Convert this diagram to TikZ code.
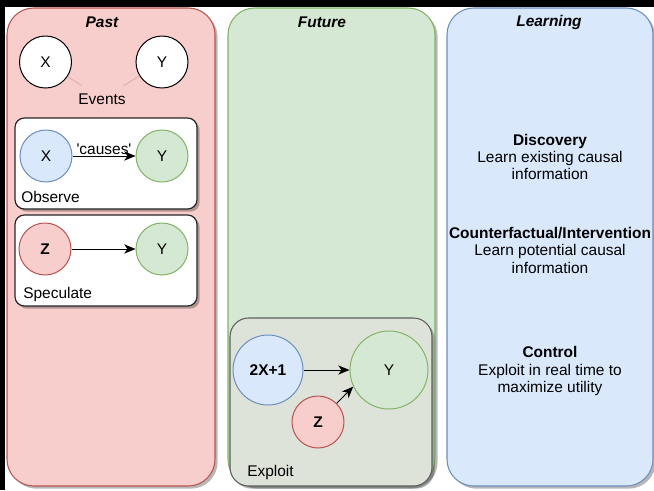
\documentclass[tikz,border=0pt]{standalone}
\usepackage{fontspec}
\setmainfont{Liberation Sans}
\newfontfamily\nomap{Liberation Sans}[Ligatures=TeXOff]
\usetikzlibrary{arrows.meta,shadows}
\definecolor{redF}{HTML}{F8CECC}
\definecolor{redS}{HTML}{B85450}
\definecolor{greenF}{HTML}{D5E8D4}
\definecolor{greenS}{HTML}{82B366}
\definecolor{blueF}{HTML}{DAE8FC}
\definecolor{blueS}{HTML}{6C8EBF}
\definecolor{exF}{HTML}{DEE3DA}
\definecolor{exS}{HTML}{5E5E5E}
\definecolor{evline}{RGB}{215,172,170}
\begin{document}
\begin{tikzpicture}[x=0.75pt,y=-0.75pt,
  every node/.style={font=\fontsize{11.6pt}{13.1pt}\selectfont},
  shad/.style={drop shadow={shadow xshift=2pt,shadow yshift=-2pt,opacity=0.28,fill=black}},
  panel/.style={rounded corners=20pt,line width=0.8pt,shad},
  subbox/.style={rounded corners=7pt,line width=0.9pt,draw=black!85,fill=white,shad},
  exbox/.style={rounded corners=14pt,line width=0.8pt,draw=exS,fill=exF,shad},
  circ/.style={circle,minimum size=39pt,inner sep=0pt,line width=0.75pt},
  wc/.style={circ,draw=black,fill=white},
  rc/.style={circ,draw=redS,fill=redF},
  gc/.style={circ,draw=greenS,fill=greenF},
  bc/.style={circ,draw=blueS,fill=blueF},
  arr/.style={-{Stealth[length=8.5pt,width=7pt,inset=2.5pt]},line width=0.75pt,draw=black},
  title/.style={font=\fontsize{11.6pt}{13.1pt}\selectfont\bfseries\itshape},
  lbl/.style={anchor=west,inner sep=0pt},
  learn/.style={align=center,inner sep=0pt}]
\useasboundingbox (0,0) rectangle (654,490);
\fill[black] (0,0) rectangle (654,490);
\fill[white] (5,7) rectangle (654,490);
% panels
\draw[panel,draw=redS,fill=redF] (7,8) rectangle (215,486);
\draw[panel,draw=greenS,fill=greenF] (228,8) rectangle (435,486);
\draw[panel,draw=blueS,fill=blueF] (447,8) rectangle (653,486);
\node[title] (tpast) at (102,22) {Past};
\node[title] (tfut) at (322,22) {Future};
\node[title] (tlearn) at (549,22) {Learning};
% Events
\node[wc] (ex) at (45.5,62) {X};
\node[wc] (ey) at (162,62) {Y};
\node[minimum width=36pt,minimum height=19.5pt,inner sep=0pt] (events) at (102,99) {Events};
\draw[evline,line width=0.6pt] (ex) -- (events);
\draw[evline,line width=0.6pt] (ey) -- (events);
% Observe
\draw[subbox] (15,118) rectangle (197,209);
\node[bc] (ox) at (46,156) {X};
\node[gc] (oy) at (162,156) {Y};
\draw[arr] (ox) -- node[above,inner sep=1pt] (causes) {{\nomap 'causes'}} (oy);
\node[lbl] (observe) at (21,197) {Observe};
% Speculate
\draw[subbox] (15,215) rectangle (197,306);
\node[rc,font=\fontsize{11.6pt}{13.1pt}\selectfont\bfseries] (sz) at (45,249) {Z};
\node[gc] (sy) at (162,249) {Y};
\draw[arr] (sz) -- (sy);
\node[lbl] (speculate) at (23,294) {Speculate};
% Exploit
\draw[exbox] (230,318) rectangle (432,486);
\node[bc,minimum size=52.5pt,font=\fontsize{11.6pt}{13.1pt}\selectfont\bfseries] (x2) at (268,370) {2X+1};
\node[gc,minimum size=58.5pt] (yb) at (389,370) {Y};
\node[rc,font=\fontsize{11.6pt}{13.1pt}\selectfont\bfseries] (zb) at (318,422) {Z};
\draw[arr] (x2) -- (yb);
\draw[arr] (zb.45) -- (yb.205);
\node[lbl] (exploit) at (247,472) {Exploit};
% Learning
\node[learn] (disc) at (550,157) {\textbf{Discovery}\\Learn existing causal\\information};
\node[learn] (cf) at (550,250) {\textbf{Counterfactual/Intervention}\\Learn potential causal\\information};
\node[learn] (ctrl) at (550,371) {\textbf{Control}\\Exploit in real time to\\maximize utility};
\end{tikzpicture}
\end{document}
